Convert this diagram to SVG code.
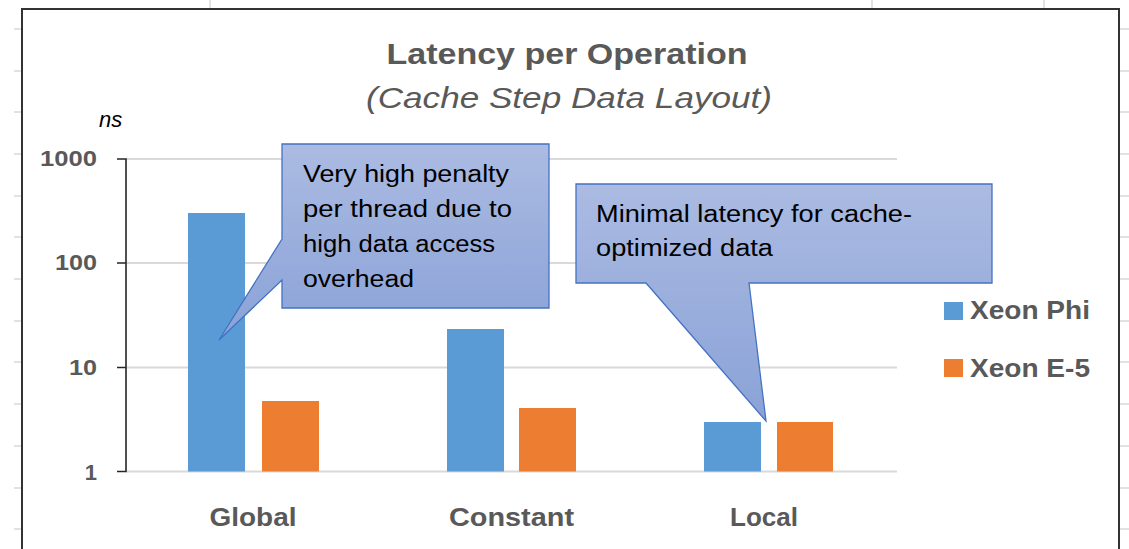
<svg xmlns="http://www.w3.org/2000/svg" width="1129" height="549" viewBox="0 0 1129 549">
<style>
.sheet{stroke:#d9d9d9;stroke-width:1.5;fill:none}
.grid{stroke:#d9d9d9;stroke-width:2;fill:none}
.axis{stroke:#262626;stroke-width:1.6;fill:none}
.lbl{font-family:"Liberation Sans",Arial,sans-serif;font-weight:bold;fill:#595959}
.ttl{font-family:"Liberation Sans",Arial,sans-serif;fill:#595959}
.call{stroke:#4472c4;stroke-width:1.3}
.ctext{font-family:"Liberation Sans",Arial,sans-serif;font-size:23.5px;fill:#000}
.phi{fill:#5b9bd5}
.e5{fill:#ed7d31}
</style>
<defs>
<linearGradient id="g1" gradientUnits="userSpaceOnUse" x1="0" y1="144" x2="0" y2="340">
<stop offset="0" stop-color="#abbbe2"/><stop offset="1" stop-color="#8aa2d7"/>
</linearGradient>
<linearGradient id="g2" gradientUnits="userSpaceOnUse" x1="0" y1="184" x2="0" y2="421">
<stop offset="0" stop-color="#abbbe2"/><stop offset="1" stop-color="#8aa2d7"/>
</linearGradient>
</defs>
<rect x="0" y="0" width="1129" height="549" fill="#fff"/>
<g id="sheet">
<path class="sheet" d="M210,0V9M872,0V9M1044,0V9"/>
<path class="sheet" d="M14,29H22M14,71H22M14,112H22M14,154H22M14,196H22M14,237H22M14,279H22M14,321H22M14,362H22M14,404H22M14,446H22M14,488H22M14,529H22"/>
<path class="sheet" d="M1120,29H1129M1120,71H1129M1120,112H1129M1120,154H1129M1120,196H1129M1120,237H1129M1120,279H1129M1120,321H1129M1120,362H1129M1120,404H1129M1120,446H1129M1120,488H1129M1120,529H1129"/>
</g>
<rect id="frame" x="22" y="9" width="1097" height="560" fill="#fff" stroke="#333" stroke-width="2"/>
<g id="title">
<text class="ttl" x="567" y="64" font-size="29" font-weight="bold" text-anchor="middle" textLength="361" lengthAdjust="spacingAndGlyphs">Latency per Operation</text>
<text class="ttl" x="569" y="108" font-size="29" font-style="italic" text-anchor="middle" textLength="406" lengthAdjust="spacingAndGlyphs">(Cache Step Data Layout)</text>
</g>
<text id="unit" x="99" y="127" font-family="'Liberation Sans',Arial,sans-serif" font-size="22" font-style="italic" fill="#000">ns</text>
<g id="gridlines">
<path class="grid" d="M126,159H897M126,263H897M126,367.5H897M126,471.5H897"/>
</g>
<g id="axis">
<path class="axis" d="M117,159H126V471.5H117M117,263H126M117,367.5H126"/>
<text class="lbl" x="97" y="166" font-size="22" text-anchor="end" textLength="57" lengthAdjust="spacingAndGlyphs">1000</text>
<text class="lbl" x="97" y="270" font-size="22" text-anchor="end" textLength="42" lengthAdjust="spacingAndGlyphs">100</text>
<text class="lbl" x="97" y="375" font-size="22" text-anchor="end" textLength="28" lengthAdjust="spacingAndGlyphs">10</text>
<text class="lbl" x="97" y="480" font-size="22" text-anchor="end">1</text>
</g>
<g id="bars">
<rect class="phi" x="188" y="213" width="57" height="258.5"/>
<rect class="e5" x="262" y="401" width="57" height="70.5"/>
<rect class="phi" x="447" y="329" width="57" height="142.5"/>
<rect class="e5" x="519" y="408" width="57" height="63.5"/>
<rect class="phi" x="704" y="422" width="57" height="49.5"/>
<rect class="e5" x="777" y="422" width="56" height="49.5"/>
</g>
<g id="categories">
<text class="lbl" x="253" y="526" font-size="26" text-anchor="middle" textLength="87" lengthAdjust="spacingAndGlyphs">Global</text>
<text class="lbl" x="511.5" y="526" font-size="26" text-anchor="middle" textLength="125" lengthAdjust="spacingAndGlyphs">Constant</text>
<text class="lbl" x="764" y="526" font-size="26" text-anchor="middle" textLength="68" lengthAdjust="spacingAndGlyphs">Local</text>
</g>
<g id="legend">
<rect class="phi" x="944" y="302" width="19" height="18"/>
<text class="lbl" x="970" y="319" font-size="26" textLength="120" lengthAdjust="spacingAndGlyphs">Xeon Phi</text>
<rect class="e5" x="944" y="359" width="19" height="18"/>
<text class="lbl" x="970" y="377" font-size="26" textLength="120" lengthAdjust="spacingAndGlyphs">Xeon E-5</text>
</g>
<g id="callout-global">
<path class="call" fill="url(#g1)" d="M282,144H549V308H282V280L219,340L282,239Z"/>
<text class="ctext" x="303" y="182" textLength="206" lengthAdjust="spacingAndGlyphs">Very high penalty</text>
<text class="ctext" x="303" y="217" textLength="209" lengthAdjust="spacingAndGlyphs">per thread due to</text>
<text class="ctext" x="303" y="252" textLength="192" lengthAdjust="spacingAndGlyphs">high data access</text>
<text class="ctext" x="303" y="287" textLength="111" lengthAdjust="spacingAndGlyphs">overhead</text>
</g>
<g id="callout-local">
<path class="call" fill="url(#g2)" d="M576,184H992V283H749L766,421L646,283H576Z"/>
<text class="ctext" x="596" y="222" textLength="316" lengthAdjust="spacingAndGlyphs">Minimal latency for cache-</text>
<text class="ctext" x="596" y="256" textLength="177" lengthAdjust="spacingAndGlyphs">optimized data</text>
</g>
</svg>
